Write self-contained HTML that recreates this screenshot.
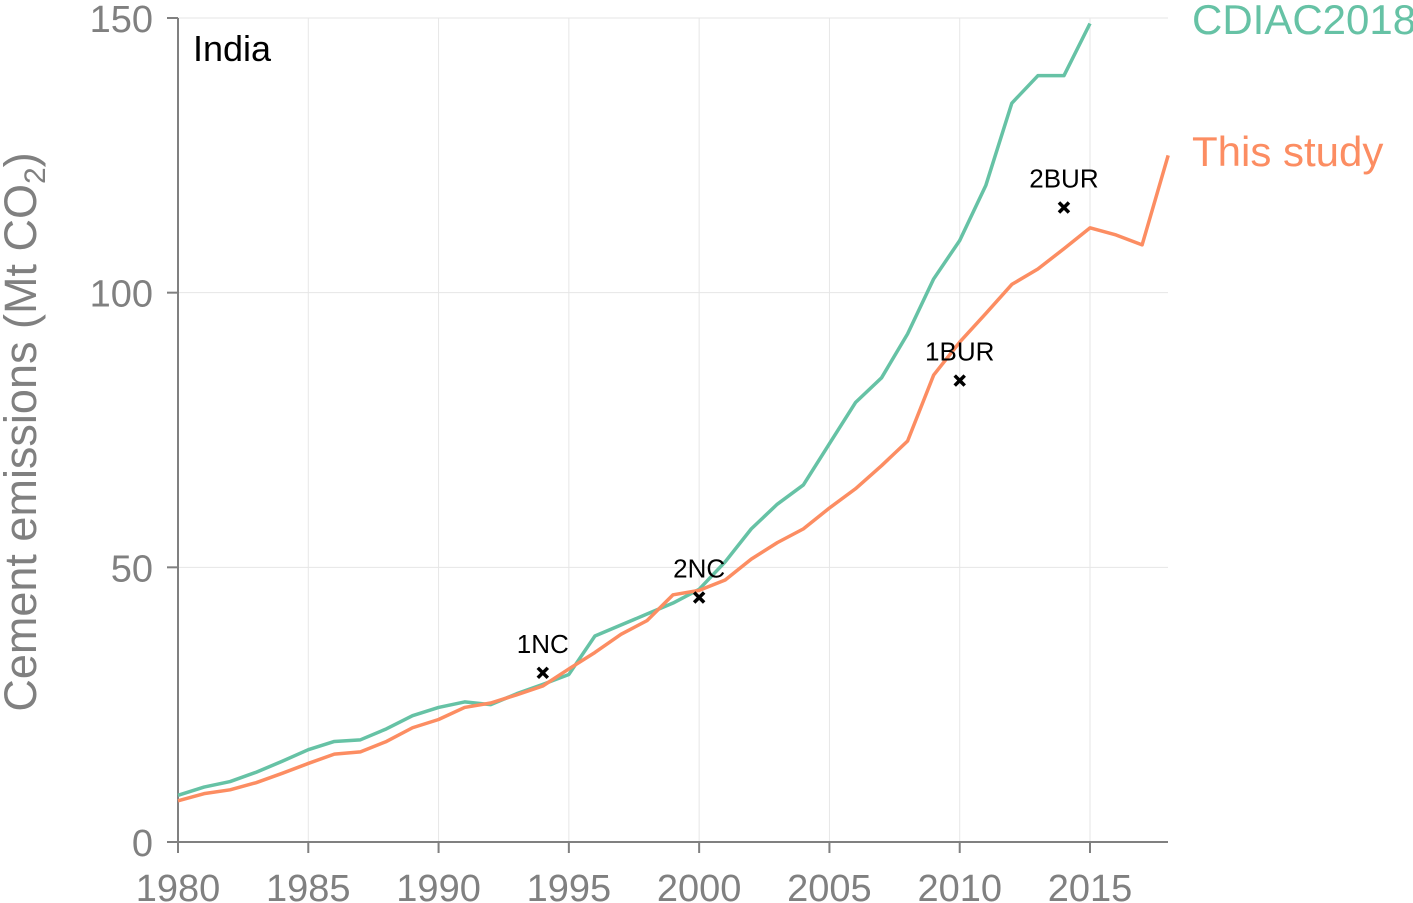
<!DOCTYPE html>
<html><head><meta charset="utf-8"><style>
body{margin:0;background:#fff;}
svg{display:block;font-family:"Liberation Sans",Arial,sans-serif;}
</style></head><body>
<svg id="chart" width="1413" height="903"></svg>
<script>
const years=[];for(let y=1980;y<=2018;y++)years.push(y);
const cdiac=[8.5,10,11,12.7,14.7,16.8,18.3,18.6,20.6,23,24.5,25.5,25,27,28.7,30.5,37.5,39.5,41.5,43.5,46,51,57,61.5,65,72.5,80,84.5,92.5,102.5,109.5,119.5,134.5,139.5,139.5,149];
const study=[7.5,8.8,9.5,10.8,12.5,14.3,16,16.4,18.3,20.8,22.3,24.5,25.3,26.8,28.4,31.5,34.5,37.8,40.3,45,45.8,47.7,51.5,54.5,57,60.8,64.3,68.5,73,85,91,96.2,101.5,104.3,108,111.8,110.5,108.7,125];
const markerYears=[1994,2000,2010,2014];
const markerValues=[30.8,44.5,84,115.5];
const markerLabels=["1NC","2NC","1BUR","2BUR"];
const xTicks=[1980,1985,1990,1995,2000,2005,2010,2015];
const yTicks=[0,50,100,150];
const NS="http://www.w3.org/2000/svg";
const svg=document.getElementById('chart');
const X=v=>178+(v-1980)*(1090-178)/35;
const Y=v=>842-v*(842-18)/150;
function el(t,a,p){const e=document.createElementNS(NS,t);for(const k in a)e.setAttribute(k,a[k]);(p||svg).appendChild(e);return e;}
xTicks.forEach(t=>{
 const g=el('line',{x1:X(t),x2:X(t),y1:18,y2:842,stroke:'#e6e6e6','stroke-width':1});
 
 
 const tk=el('line',{x1:X(t),x2:X(t),y1:842,y2:853,stroke:'#808080','stroke-width':2});
 
 
 const tx=el('text',{x:X(t),y:901,'text-anchor':'middle','font-size':38,fill:'#808080'});tx.textContent=t;
 
 
});
yTicks.forEach(t=>{
 if(t>0){const g=el('line',{x1:178,x2:1168,y1:Y(t),y2:Y(t),stroke:'#e6e6e6','stroke-width':1});
 
 }
 const tk=el('line',{x1:167,x2:178,y1:Y(t),y2:Y(t),stroke:'#808080','stroke-width':2});
 
 
 const tx=el('text',{x:153,y:Y(t)+14,'text-anchor':'end','font-size':38,fill:'#808080'});tx.textContent=t;
 
 
});
const ax=el('path',{d:'M178 18V842H1168',fill:'none',stroke:'#808080','stroke-width':2});


function line(vals,color,name){
 const d=vals.map((v,i)=>(i?'L':'M')+X(years[i])+' '+Y(v)).join('');
 const p=el('path',{d,fill:'none',stroke:color,'stroke-width':3.5,'stroke-linejoin':'round'});
 
 
}
line(cdiac,'#66c2a5','cdiac2018-line');
line(study,'#fc8d62','this-study-line');
markerYears.forEach((yr,i)=>{
 const x=X(yr),y=Y(markerValues[i]);
 const m=el('path',{d:`M${x-5} ${y-5}L${x+5} ${y+5}M${x+5} ${y-5}L${x-5} ${y+5}`,stroke:'#000','stroke-width':3.5});
 
 
 const t=el('text',{x:x,y:y-20,'text-anchor':'middle','font-size':26,fill:'#000'});t.textContent=markerLabels[i];
 
 
});
</script>
<svg style="position:absolute;left:0;top:0" width="1413" height="903">
<text x="193" y="61" font-size="36" fill="#000" font-family="Liberation Sans, sans-serif">India</text>
<text x="1192" y="34" font-size="42" fill="#66c2a5" font-family="Liberation Sans, sans-serif">CDIAC2018</text>
<text x="1192" y="166" font-size="42" fill="#fc8d62" font-family="Liberation Sans, sans-serif">This study</text>
<text transform="translate(36,432) rotate(-90)" text-anchor="middle" font-size="45" fill="#808080" font-family="Liberation Sans, sans-serif">Cement emissions (Mt CO<tspan font-size="30" dy="9">2</tspan><tspan dy="-9">)</tspan></text>
</svg>
</body></html>
